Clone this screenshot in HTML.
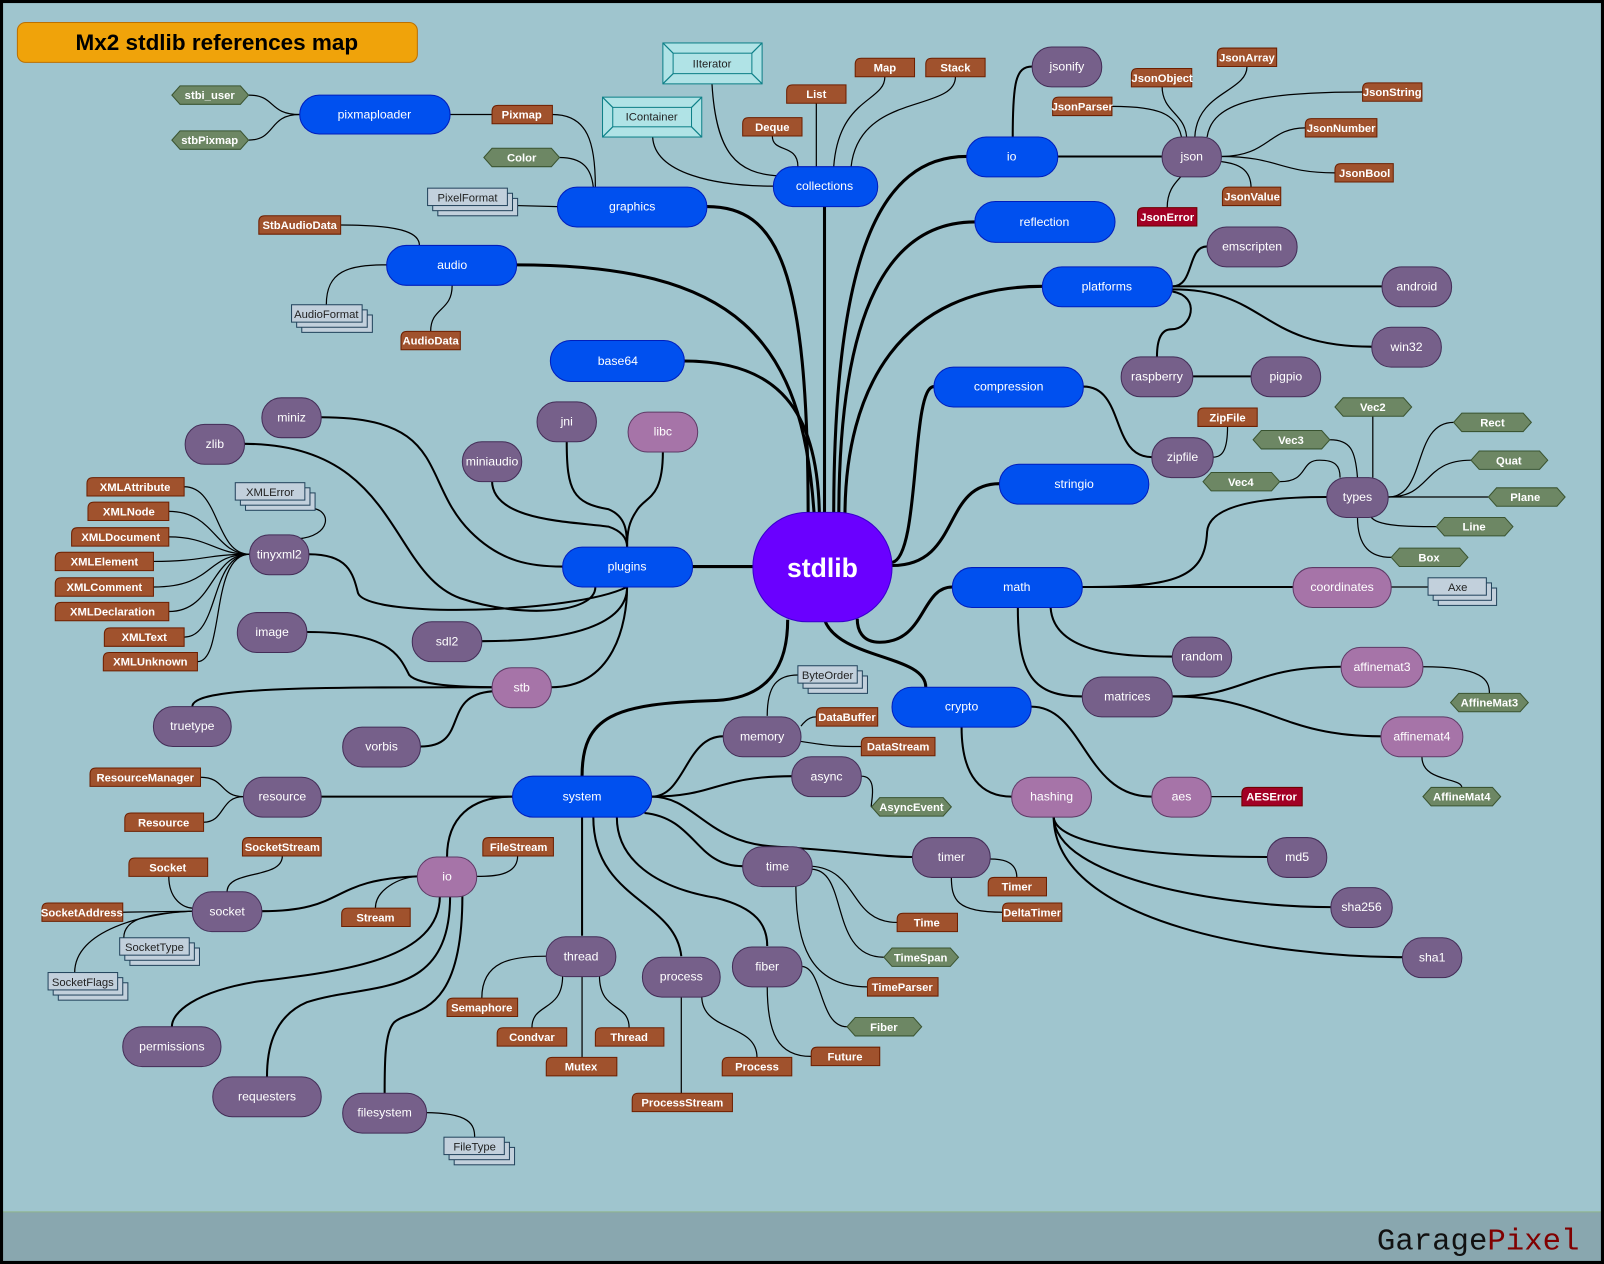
<!DOCTYPE html>
<html><head><meta charset="utf-8"><style>
html,body{margin:0;padding:0;background:#9fc5ce;}
svg{display:block}
text{font-family:"Liberation Sans",Arial,sans-serif;text-anchor:middle}
.p{fill:#fff;font-size:12px}
.c{fill:#fff;font-size:11px;font-weight:bold}
.g{fill:#222;font-size:11px}
.t{fill:none;stroke:#000;stroke-width:3}
.m{fill:none;stroke:#000;stroke-width:2}
.s{fill:none;stroke:#000;stroke-width:1.2}
.bl{fill:#0050ef;stroke:#001dbc}
.pu{fill:#76608a;stroke:#432d57}
.lp{fill:#a674a8;stroke:#5e3a66}
.br{fill:#a0522d;stroke:#6d1f00}
.rd{fill:#a20025;stroke:#6f0000}
.gr{fill:#6d8764;stroke:#3a5431}
.gy{fill:#c2d0dc;stroke:#23445d}
.cy{fill:#b0e3e6;stroke:#0e8088}
</style></head><body>
<svg width="1604" height="1264" viewBox="0 0 1568 1236" preserveAspectRatio="none" xmlns="http://www.w3.org/2000/svg">
<rect x="0" y="0" width="1568" height="1236" fill="#9fc5ce"/>
<rect x="0" y="1185" width="1568" height="51" fill="#89a7af"/>
<line x1="0" y1="1185" x2="1568" y2="1185" stroke="#8fb58a" stroke-width="1"/>
<rect x="1.5" y="1.5" width="1565" height="1233" fill="none" stroke="#000" stroke-width="3"/>
<text x="1445" y="1222" style="font-family:'Liberation Mono',monospace;font-size:30px"><tspan fill="#111">Garage</tspan><tspan fill="#800000">Pixel</tspan></text>

<rect x="17" y="22" width="391" height="39" rx="8" fill="#f0a30a" stroke="#bd7000"/>
<text x="212" y="49" style="font-size:22px;font-weight:bold;fill:#000">Mx2 stdlib references map</text>

<!-- thick edges from stdlib -->
<path class="t" d="M691,202 C760,202 790,260 790,505"/>
<path class="t" d="M806,202 L806,505"/>
<path class="t" d="M505,259 C720,259 785,330 796,505"/>
<path class="t" d="M669,353 C760,353 800,400 801,505"/>
<path class="t" d="M945,153 C860,153 815,250 815,505"/>
<path class="t" d="M953,217 C870,217 820,300 820,505"/>
<path class="t" d="M1019,280 C880,280 826,380 826,505"/>
<path class="t" d="M913,378 C890,378 900,545 872,550"/>
<path class="t" d="M977,473 C920,473 940,553 872,553"/>
<path class="t" d="M677,554 L736,554"/>
<path class="t" d="M931,574 C900,574 905,628 860,628 C842,628 838,615 838,605"/>
<path class="t" d="M905,672 C905,640 820,645 806,606"/>
<path class="t" d="M569,759 C569,700 600,688 700,685 C760,682 770,640 770,606"/>

<!-- module edges -->
<path class="m" d="M1034,153 L1136,153"/>
<path class="m" d="M1009,65 C993,65 990,80 990,134"/>
<path class="m" d="M1180,241 C1160,241 1168,280 1146,280"/>
<path class="m" d="M1146,280 L1351,280"/>
<path class="m" d="M1146,283 C1240,283 1230,339 1341,339"/>
<path class="m" d="M1146,285 C1175,290 1165,322 1145,322 C1132,322 1131,340 1131,349"/>
<path class="m" d="M1166,368 L1223,368"/>
<path class="m" d="M1059,378 C1100,378 1085,447 1126,447"/>
<path class="m" d="M1058,574 C1150,574 1178,565 1180,520 C1182,490 1250,486 1297,486"/>
<path class="m" d="M1058,574 L1264,574"/>
<path class="m" d="M1027,594 C1030,640 1100,642 1146,642"/>
<path class="m" d="M995,594 C995,660 1010,681 1058,681"/>
<path class="m" d="M1146,681 C1220,681 1220,652 1311,652"/>
<path class="m" d="M1146,681 C1240,681 1250,720 1350,720"/>
<path class="m" d="M940,711 C940,760 960,779 989,779"/>
<path class="m" d="M1008,691 C1060,691 1060,779 1126,779"/>
<path class="m" d="M1030,798 C1030,830 1150,838 1239,838"/>
<path class="m" d="M1030,798 C1030,860 1200,887 1301,887"/>
<path class="m" d="M1030,798 C1030,905 1250,936 1371,936"/>
<!-- plugins -->
<path class="m" d="M314,408 C440,408 410,470 460,520 C490,550 520,554 550,554"/>
<path class="m" d="M239,434 C390,434 380,560 450,585 C510,605 582,600 582,574"/>
<path class="m" d="M554,432 C554,480 560,492 595,498 C612,505 613,520 613,535"/>
<path class="m" d="M648,442 C648,490 630,485 622,500 C615,510 613,520 613,535"/>
<path class="m" d="M481,470 C481,510 560,510 595,515 C610,520 613,528 613,535"/>
<path class="m" d="M302,542 C340,542 345,560 350,580 C360,605 560,600 613,574"/>
<path class="m" d="M471,627 C560,627 613,610 613,574"/>
<path class="m" d="M539,672 C600,672 613,610 613,574"/>
<path class="m" d="M300,618 C380,618 390,640 400,660 C410,672 470,672 481,672"/>
<path class="m" d="M188,691 C188,672 300,672 481,672"/>
<path class="m" d="M411,730 C460,730 430,680 481,676"/>
<!-- system -->
<path class="m" d="M314,779 L501,779"/>
<path class="m" d="M637,779 C670,779 670,720 707,720"/>
<path class="m" d="M637,779 C700,779 700,759 774,759"/>
<path class="m" d="M637,779 C680,779 690,825 760,828 C830,832 860,838 892,838"/>
<path class="m" d="M630,795 C680,800 680,847 726,847"/>
<path class="m" d="M603,799 C603,840 640,868 700,878 C740,888 750,905 750,925"/>
<path class="m" d="M580,799 C580,880 660,880 666,935"/>
<path class="m" d="M569,799 L569,915"/>
<path class="m" d="M501,779 C460,779 437,800 437,838"/>
<path class="m" d="M256,891 C340,891 320,860 408,857"/>
<path class="m" d="M430,876 C430,940 330,950 250,960 C190,970 168,990 168,1004"/>
<path class="m" d="M440,876 C440,980 360,960 300,980 C265,995 261,1030 261,1053"/>
<path class="m" d="M452,876 C452,1000 400,985 385,1000 C376,1010 376,1040 376,1069"/>

<!-- thin class edges -->
<path class="s" d="M243,93 C270,93 262,112 293,112"/>
<path class="s" d="M243,137 C270,137 262,112 293,112"/>
<path class="s" d="M440,112 L481,112"/>
<path class="s" d="M540,112 C575,112 582,140 582,183"/>
<path class="s" d="M547,154 C570,154 578,165 580,183"/>
<path class="s" d="M505,201 L545,202"/>
<path class="s" d="M638,134 C640,170 700,182 756,182"/>
<path class="s" d="M696,82 C700,150 720,170 762,172"/>
<path class="s" d="M755,133 C755,150 780,140 780,163"/>
<path class="s" d="M798,101 L798,163"/>
<path class="s" d="M865,75 C865,100 820,95 815,163"/>
<path class="s" d="M934,75 C934,110 840,90 832,163"/>
<path class="s" d="M1087,104 C1130,104 1150,110 1155,134"/>
<path class="s" d="M1136,84 C1136,110 1158,110 1160,134"/>
<path class="s" d="M1219,65 C1219,90 1170,90 1168,134"/>
<path class="s" d="M1332,90 C1230,90 1185,100 1180,134"/>
<path class="s" d="M1276,125 C1240,125 1240,153 1194,153"/>
<path class="s" d="M1305,169 C1250,169 1250,153 1194,153"/>
<path class="s" d="M1223,184 C1223,165 1210,160 1194,158"/>
<path class="s" d="M1141,203 C1141,185 1150,178 1155,172"/>
<path class="s" d="M1200,417 C1200,440 1195,447 1186,447"/>
<path class="s" d="M1342,407 L1342,467"/>
<path class="s" d="M1300,430 C1320,430 1325,440 1327,467"/>
<path class="s" d="M1251,471 C1280,471 1270,450 1290,450 C1305,450 1310,455 1310,467"/>
<path class="s" d="M1357,486 C1395,486 1380,413 1421,413"/>
<path class="s" d="M1357,486 C1400,486 1390,450 1438,450"/>
<path class="s" d="M1357,486 L1455,486"/>
<path class="s" d="M1340,505 C1345,515 1380,515 1404,515"/>
<path class="s" d="M1327,505 C1327,535 1340,545 1360,545"/>
<path class="s" d="M1360,574 L1396,574"/>
<path class="s" d="M1391,652 C1450,652 1456,665 1456,678"/>
<path class="s" d="M1390,740 C1390,765 1429,760 1429,770"/>
<path class="s" d="M1184,779 L1214,779"/>
<path class="s" d="M780,660 C760,660 750,670 750,700"/>
<path class="s" d="M783,710 C790,701 795,701 798,701"/>
<path class="s" d="M783,725 C815,730 820,730 842,730"/>
<path class="s" d="M842,759 C860,759 850,789 852,789"/>
<path class="s" d="M196,760 C220,760 215,779 238,779"/>
<path class="s" d="M199,804 C220,804 215,779 238,779"/>
<path class="s" d="M276,837 C276,860 222,850 222,872"/>
<path class="s" d="M165,857 C165,880 180,888 188,888"/>
<path class="s" d="M120,892 L188,891"/>
<path class="s" d="M121,917 C121,900 140,893 188,891"/>
<path class="s" d="M73,951 C73,910 140,893 188,891"/>
<path class="s" d="M506,837 C506,857 480,857 466,857"/>
<path class="s" d="M367,888 C367,870 390,858 408,857"/>
<path class="s" d="M415,1088 C460,1088 464,1100 464,1112"/>
<path class="s" d="M471,976 C471,940 500,935 534,935"/>
<path class="s" d="M520,1005 C520,980 550,990 550,954"/>
<path class="s" d="M569,954 L569,1034"/>
<path class="s" d="M615,1005 C615,980 586,990 586,954"/>
<path class="s" d="M666,974 L666,1069"/>
<path class="s" d="M740,1034 C740,1000 686,1010 686,974"/>
<path class="s" d="M828,1004 C800,1004 805,945 783,945"/>
<path class="s" d="M793,1033 C760,1033 750,1010 750,964"/>
<path class="s" d="M877,902 C830,902 840,850 793,847"/>
<path class="s" d="M864,936 C810,936 830,850 793,850"/>
<path class="s" d="M848,965 C790,965 778,920 778,865"/>
<path class="s" d="M994,858 C994,840 975,840 968,840"/>
<path class="s" d="M980,892 C935,892 930,880 930,857"/>
<path class="s" d="M333,220 C400,220 410,230 410,240"/>
<path class="s" d="M319,298 C319,265 340,259 378,259"/>
<path class="s" d="M421,324 C421,300 442,305 442,279"/>
<path class="s" d="M180,476 C215,476 210,542 244,542"/>
<path class="s" d="M165,500 C210,500 210,542 244,542"/>
<path class="s" d="M165,525 C205,525 210,542 244,542"/>
<path class="s" d="M150,549 C200,549 200,542 244,542"/>
<path class="s" d="M150,574 C210,574 200,542 244,542"/>
<path class="s" d="M165,598 C210,598 205,542 244,542"/>
<path class="s" d="M180,623 C215,623 205,542 244,542"/>
<path class="s" d="M193,647 C220,647 205,542 244,542"/>
<path class="s" d="M303,497 C325,497 325,525 290,527 C278,528 275,530 275,523"/>

<!-- blue pills -->
<g>
<rect class="bl" x="293" y="93" width="147" height="38" rx="19"/><text class="p" x="366" y="116">pixmaploader</text>
<rect class="bl" x="545" y="183" width="146" height="39" rx="19"/><text class="p" x="618" y="206">graphics</text>
<rect class="bl" x="756" y="163" width="102" height="39" rx="19"/><text class="p" x="806" y="186">collections</text>
<rect class="bl" x="945" y="134" width="89" height="39" rx="19"/><text class="p" x="989" y="157">io</text>
<rect class="bl" x="953" y="197" width="137" height="40" rx="20"/><text class="p" x="1021" y="221">reflection</text>
<rect class="bl" x="1019" y="261" width="127" height="39" rx="19"/><text class="p" x="1082" y="284">platforms</text>
<rect class="bl" x="378" y="240" width="127" height="39" rx="19"/><text class="p" x="442" y="263">audio</text>
<rect class="bl" x="538" y="333" width="131" height="40" rx="20"/><text class="p" x="604" y="357">base64</text>
<rect class="bl" x="913" y="359" width="146" height="39" rx="19"/><text class="p" x="986" y="382">compression</text>
<rect class="bl" x="977" y="454" width="146" height="39" rx="19"/><text class="p" x="1050" y="477">stringio</text>
<rect class="bl" x="550" y="535" width="127" height="39" rx="19"/><text class="p" x="613" y="558">plugins</text>
<rect class="bl" x="931" y="555" width="127" height="39" rx="19"/><text class="p" x="994" y="578">math</text>
<rect class="bl" x="872" y="672" width="136" height="39" rx="19"/><text class="p" x="940" y="695">crypto</text>
<rect class="bl" x="501" y="759" width="136" height="40" rx="20"/><text class="p" x="569" y="783">system</text>
<rect x="736" y="501" width="136" height="107" rx="53" fill="#6a00ff" stroke="#3700cc"/><text x="804" y="564" style="fill:#fff;font-size:26px;font-weight:bold">stdlib</text>
</g>

<!-- purple pills -->
<g>
<rect class="pu" x="1009" y="46" width="68" height="39" rx="19"/><text class="p" x="1043" y="69">jsonify</text>
<rect class="pu" x="1136" y="134" width="58" height="39" rx="19"/><text class="p" x="1165" y="157">json</text>
<rect class="pu" x="1180" y="222" width="88" height="39" rx="19"/><text class="p" x="1224" y="245">emscripten</text>
<rect class="pu" x="1351" y="261" width="68" height="39" rx="19"/><text class="p" x="1385" y="284">android</text>
<rect class="pu" x="1341" y="320" width="68" height="39" rx="19"/><text class="p" x="1375" y="343">win32</text>
<rect class="pu" x="1096" y="349" width="70" height="39" rx="19"/><text class="p" x="1131" y="372">raspberry</text>
<rect class="pu" x="1223" y="349" width="68" height="39" rx="19"/><text class="p" x="1257" y="372">pigpio</text>
<rect class="pu" x="1126" y="428" width="60" height="39" rx="19"/><text class="p" x="1156" y="451">zipfile</text>
<rect class="pu" x="1297" y="467" width="60" height="39" rx="19"/><text class="p" x="1327" y="490">types</text>
<rect class="pu" x="1146" y="623" width="58" height="39" rx="19"/><text class="p" x="1175" y="646">random</text>
<rect class="pu" x="1058" y="662" width="88" height="39" rx="19"/><text class="p" x="1102" y="685">matrices</text>
<rect class="pu" x="1239" y="819" width="58" height="39" rx="19"/><text class="p" x="1268" y="842">md5</text>
<rect class="pu" x="1301" y="868" width="60" height="39" rx="19"/><text class="p" x="1331" y="891">sha256</text>
<rect class="pu" x="1371" y="917" width="58" height="39" rx="19"/><text class="p" x="1400" y="940">sha1</text>
<rect class="pu" x="256" y="389" width="58" height="39" rx="19"/><text class="p" x="285" y="412">miniz</text>
<rect class="pu" x="181" y="415" width="58" height="39" rx="19"/><text class="p" x="210" y="438">zlib</text>
<rect class="pu" x="525" y="393" width="58" height="39" rx="19"/><text class="p" x="554" y="416">jni</text>
<rect class="pu" x="452" y="432" width="58" height="39" rx="19"/><text class="p" x="481" y="455">miniaudio</text>
<rect class="pu" x="244" y="523" width="58" height="39" rx="19"/><text class="p" x="273" y="546">tinyxml2</text>
<rect class="pu" x="232" y="599" width="68" height="39" rx="19"/><text class="p" x="266" y="622">image</text>
<rect class="pu" x="403" y="608" width="68" height="39" rx="19"/><text class="p" x="437" y="631">sdl2</text>
<rect class="pu" x="150" y="691" width="76" height="39" rx="19"/><text class="p" x="188" y="714">truetype</text>
<rect class="pu" x="335" y="711" width="76" height="39" rx="19"/><text class="p" x="373" y="734">vorbis</text>
<rect class="pu" x="707" y="701" width="76" height="39" rx="19"/><text class="p" x="745" y="724">memory</text>
<rect class="pu" x="774" y="740" width="68" height="39" rx="19"/><text class="p" x="808" y="763">async</text>
<rect class="pu" x="238" y="760" width="76" height="39" rx="19"/><text class="p" x="276" y="783">resource</text>
<rect class="pu" x="188" y="872" width="68" height="39" rx="19"/><text class="p" x="222" y="895">socket</text>
<rect class="pu" x="534" y="916" width="68" height="39" rx="19"/><text class="p" x="568" y="939">thread</text>
<rect class="pu" x="628" y="936" width="76" height="39" rx="19"/><text class="p" x="666" y="959">process</text>
<rect class="pu" x="716" y="926" width="68" height="39" rx="19"/><text class="p" x="750" y="949">fiber</text>
<rect class="pu" x="726" y="828" width="68" height="39" rx="19"/><text class="p" x="760" y="851">time</text>
<rect class="pu" x="892" y="819" width="76" height="39" rx="19"/><text class="p" x="930" y="842">timer</text>
<rect class="pu" x="120" y="1004" width="96" height="39" rx="19"/><text class="p" x="168" y="1027">permissions</text>
<rect class="pu" x="208" y="1053" width="106" height="39" rx="19"/><text class="p" x="261" y="1076">requesters</text>
<rect class="pu" x="335" y="1069" width="82" height="39" rx="19"/><text class="p" x="376" y="1092">filesystem</text>
</g>
<!-- light purple -->
<g>
<rect class="lp" x="614" y="403" width="68" height="39" rx="19"/><text class="p" x="648" y="426">libc</text>
<rect class="lp" x="481" y="653" width="58" height="39" rx="19"/><text class="p" x="510" y="676">stb</text>
<rect class="lp" x="1264" y="555" width="96" height="39" rx="19"/><text class="p" x="1312" y="578">coordinates</text>
<rect class="lp" x="1311" y="633" width="80" height="39" rx="19"/><text class="p" x="1351" y="656">affinemat3</text>
<rect class="lp" x="1350" y="701" width="80" height="39" rx="19"/><text class="p" x="1390" y="724">affinemat4</text>
<rect class="lp" x="989" y="760" width="78" height="39" rx="19"/><text class="p" x="1028" y="783">hashing</text>
<rect class="lp" x="1126" y="760" width="58" height="39" rx="19"/><text class="p" x="1155" y="783">aes</text>
<rect class="lp" x="408" y="838" width="58" height="39" rx="19"/><text class="p" x="437" y="861">io</text>
</g>

<!-- brown classes -->
<g>
<path class="br" d="M481,121V109Q481,103 487,103H540V121Z"/><text class="c" x="510" y="116">Pixmap</text>
<path class="br" d="M726,133V121Q726,115 732,115H784V133Z"/><text class="c" x="755" y="128">Deque</text>
<path class="br" d="M769,101V89Q769,83 775,83H827V101Z"/><text class="c" x="798" y="96">List</text>
<path class="br" d="M836,75V63Q836,57 842,57H894V75Z"/><text class="c" x="865" y="70">Map</text>
<path class="br" d="M905,75V63Q905,57 911,57H963V75Z"/><text class="c" x="934" y="70">Stack</text>
<path class="br" d="M1106,85V73Q1106,67 1112,67H1165V85Z"/><text class="c" x="1136" y="80">JsonObject</text>
<path class="br" d="M1190,65V53Q1190,47 1196,47H1248V65Z"/><text class="c" x="1219" y="60">JsonArray</text>
<path class="br" d="M1029,113V101Q1029,95 1035,95H1087V113Z"/><text class="c" x="1058" y="108">JsonParser</text>
<path class="br" d="M1332,99V87Q1332,81 1338,81H1390V99Z"/><text class="c" x="1361" y="94">JsonString</text>
<path class="br" d="M1276,134V122Q1276,116 1282,116H1346V134Z"/><text class="c" x="1311" y="129">JsonNumber</text>
<path class="br" d="M1305,178V166Q1305,160 1311,160H1362V178Z"/><text class="c" x="1334" y="173">JsonBool</text>
<path class="br" d="M1195,201V189Q1195,183 1201,183H1252V201Z"/><text class="c" x="1224" y="196">JsonValue</text>
<path class="rd" d="M1112,221V209Q1112,203 1118,203H1170V221Z"/><text class="c" x="1141" y="216">JsonError</text>
<path class="br" d="M253,229V217Q253,211 259,211H333V229Z"/><text class="c" x="293" y="224">StbAudioData</text>
<path class="br" d="M392,342V330Q392,324 398,324H450V342Z"/><text class="c" x="421" y="337">AudioData</text>
<path class="br" d="M1171,417V405Q1171,399 1177,399H1229V417Z"/><text class="c" x="1200" y="412">ZipFile</text>
<path class="br" d="M85,485V473Q85,467 91,467H180V485Z"/><text class="c" x="132" y="480">XMLAttribute</text>
<path class="br" d="M86,509V497Q86,491 92,491H165V509Z"/><text class="c" x="126" y="504">XMLNode</text>
<path class="br" d="M70,534V522Q70,516 76,516H165V534Z"/><text class="c" x="118" y="529">XMLDocument</text>
<path class="br" d="M54,558V546Q54,540 60,540H150V558Z"/><text class="c" x="102" y="553">XMLElement</text>
<path class="br" d="M54,583V571Q54,565 60,565H150V583Z"/><text class="c" x="102" y="578">XMLComment</text>
<path class="br" d="M54,607V595Q54,589 60,589H165V607Z"/><text class="c" x="110" y="602">XMLDeclaration</text>
<path class="br" d="M102,632V620Q102,614 108,614H180V632Z"/><text class="c" x="141" y="627">XMLText</text>
<path class="br" d="M101,656V644Q101,638 107,638H193V656Z"/><text class="c" x="147" y="651">XMLUnknown</text>
<path class="br" d="M798,710V698Q798,692 804,692H858V710Z"/><text class="c" x="828" y="705">DataBuffer</text>
<path class="br" d="M842,739V727Q842,721 848,721H914V739Z"/><text class="c" x="878" y="734">DataStream</text>
<path class="br" d="M88,769V757Q88,751 94,751H196V769Z"/><text class="c" x="142" y="764">ResourceManager</text>
<path class="br" d="M122,813V801Q122,795 128,795H199V813Z"/><text class="c" x="160" y="808">Resource</text>
<path class="br" d="M237,837V825Q237,819 243,819H314V837Z"/><text class="c" x="276" y="832">SocketStream</text>
<path class="br" d="M472,837V825Q472,819 478,819H541V837Z"/><text class="c" x="507" y="832">FileStream</text>
<path class="br" d="M126,857V845Q126,839 132,839H203V857Z"/><text class="c" x="164" y="852">Socket</text>
<path class="br" d="M41,901V889Q41,883 47,883H120V901Z"/><text class="c" x="80" y="896">SocketAddress</text>
<path class="br" d="M334,906V894Q334,888 340,888H401V906Z"/><text class="c" x="367" y="901">Stream</text>
<path class="br" d="M966,876V864Q966,858 972,858H1023V876Z"/><text class="c" x="994" y="871">Timer</text>
<path class="br" d="M980,901V889Q980,883 986,883H1038V901Z"/><text class="c" x="1009" y="896">DeltaTimer</text>
<path class="br" d="M877,911V899Q877,893 883,893H936V911Z"/><text class="c" x="906" y="906">Time</text>
<path class="br" d="M848,974V962Q848,956 854,956H917V974Z"/><text class="c" x="882" y="969">TimeParser</text>
<path class="br" d="M437,994V982Q437,976 443,976H506V994Z"/><text class="c" x="471" y="989">Semaphore</text>
<path class="br" d="M486,1023V1011Q486,1005 492,1005H554V1023Z"/><text class="c" x="520" y="1018">Condvar</text>
<path class="br" d="M582,1023V1011Q582,1005 588,1005H649V1023Z"/><text class="c" x="615" y="1018">Thread</text>
<path class="br" d="M534,1052V1040Q534,1034 540,1034H603V1052Z"/><text class="c" x="568" y="1047">Mutex</text>
<path class="br" d="M706,1052V1040Q706,1034 712,1034H774V1052Z"/><text class="c" x="740" y="1047">Process</text>
<path class="br" d="M793,1042V1030Q793,1024 799,1024H860V1042Z"/><text class="c" x="826" y="1037">Future</text>
<path class="br" d="M618,1087V1075Q618,1069 624,1069H716V1087Z"/><text class="c" x="667" y="1082">ProcessStream</text>
<path class="rd" d="M1214,788V776Q1214,770 1220,770H1273V788Z"/><text class="c" x="1243" y="783">AESError</text>
</g>

<!-- green hex -->
<g>
<polygon class="gr" points="168,93 176,84 235,84 243,93 235,102 176,102"/><text class="c" x="205" y="97">stbi_user</text>
<polygon class="gr" points="168,137 176,128 235,128 243,137 235,146 176,146"/><text class="c" x="205" y="141">stbPixmap</text>
<polygon class="gr" points="473,154 481,145 539,145 547,154 539,163 481,163"/><text class="c" x="510" y="158">Color</text>
<polygon class="gr" points="1305,398 1313,389 1372,389 1380,398 1372,407 1313,407"/><text class="c" x="1342" y="402">Vec2</text>
<polygon class="gr" points="1225,430 1233,421 1292,421 1300,430 1292,439 1233,439"/><text class="c" x="1262" y="434">Vec3</text>
<polygon class="gr" points="1176,471 1184,462 1243,462 1251,471 1243,480 1184,480"/><text class="c" x="1213" y="475">Vec4</text>
<polygon class="gr" points="1421,413 1429,404 1489,404 1497,413 1489,422 1429,422"/><text class="c" x="1459" y="417">Rect</text>
<polygon class="gr" points="1438,450 1446,441 1505,441 1513,450 1505,459 1446,459"/><text class="c" x="1475" y="454">Quat</text>
<polygon class="gr" points="1455,486 1463,477 1522,477 1530,486 1522,495 1463,495"/><text class="c" x="1491" y="490">Plane</text>
<polygon class="gr" points="1404,515 1412,506 1471,506 1479,515 1471,524 1412,524"/><text class="c" x="1441" y="519">Line</text>
<polygon class="gr" points="1360,545 1368,536 1427,536 1435,545 1427,554 1368,554"/><text class="c" x="1397" y="549">Box</text>
<polygon class="gr" points="1418,687 1426,678 1486,678 1494,687 1486,696 1426,696"/><text class="c" x="1456" y="691">AffineMat3</text>
<polygon class="gr" points="1391,779 1399,770 1459,770 1467,779 1459,788 1399,788"/><text class="c" x="1429" y="783">AffineMat4</text>
<polygon class="gr" points="852,789 860,780 922,780 930,789 922,798 860,798"/><text class="c" x="891" y="793">AsyncEvent</text>
<polygon class="gr" points="864,936 872,927 929,927 937,936 929,945 872,945"/><text class="c" x="900" y="940">TimeSpan</text>
<polygon class="gr" points="828,1004 836,995 893,995 901,1004 893,1013 836,1013"/><text class="c" x="864" y="1008">Fiber</text>
</g>

<!-- gray stacked enums -->
<g>
<rect class="gy" x="428" y="194" width="78" height="17"/><rect class="gy" x="423" y="189" width="78" height="17"/><rect class="gy" x="418" y="184" width="78" height="17"/><text class="g" x="457" y="197">PixelFormat</text>
<rect class="gy" x="295" y="308" width="69" height="17"/><rect class="gy" x="290" y="303" width="69" height="17"/><rect class="gy" x="285" y="298" width="69" height="17"/><text class="g" x="319" y="311">AudioFormat</text>
<rect class="gy" x="240" y="482" width="68" height="17"/><rect class="gy" x="235" y="477" width="68" height="17"/><rect class="gy" x="230" y="472" width="68" height="17"/><text class="g" x="264" y="485">XMLError</text>
<rect class="gy" x="790" y="661" width="58" height="17"/><rect class="gy" x="785" y="656" width="58" height="17"/><rect class="gy" x="780" y="651" width="58" height="17"/><text class="g" x="809" y="664">ByteOrder</text>
<rect class="gy" x="127" y="927" width="68" height="17"/><rect class="gy" x="122" y="922" width="68" height="17"/><rect class="gy" x="117" y="917" width="68" height="17"/><text class="g" x="151" y="930">SocketType</text>
<rect class="gy" x="57" y="961" width="68" height="17"/><rect class="gy" x="52" y="956" width="68" height="17"/><rect class="gy" x="47" y="951" width="68" height="17"/><text class="g" x="81" y="964">SocketFlags</text>
<rect class="gy" x="444" y="1122" width="59" height="17"/><rect class="gy" x="439" y="1117" width="59" height="17"/><rect class="gy" x="434" y="1112" width="59" height="17"/><text class="g" x="464" y="1125">FileType</text>
<rect class="gy" x="1406" y="575" width="57" height="17"/><rect class="gy" x="1401" y="570" width="57" height="17"/><rect class="gy" x="1396" y="565" width="57" height="17"/><text class="g" x="1425" y="578">Axe</text>
</g>

<!-- interfaces -->
<g>
<rect class="cy" x="648" y="42" width="97" height="40"/><rect class="cy" x="658" y="52" width="77" height="20"/>
<path class="s" style="stroke:#0e8088" d="M648,42L658,52M745,42L735,52M648,82L658,72M745,82L735,72"/>
<text class="g" x="696" y="66">IIterator</text>
<rect class="cy" x="589" y="95" width="97" height="39"/><rect class="cy" x="599" y="105" width="77" height="19"/>
<path class="s" style="stroke:#0e8088" d="M589,95L599,105M686,95L676,105M589,134L599,124M686,134L676,124"/>
<text class="g" x="637" y="118">IContainer</text>
</g>
</svg>
</body></html>
